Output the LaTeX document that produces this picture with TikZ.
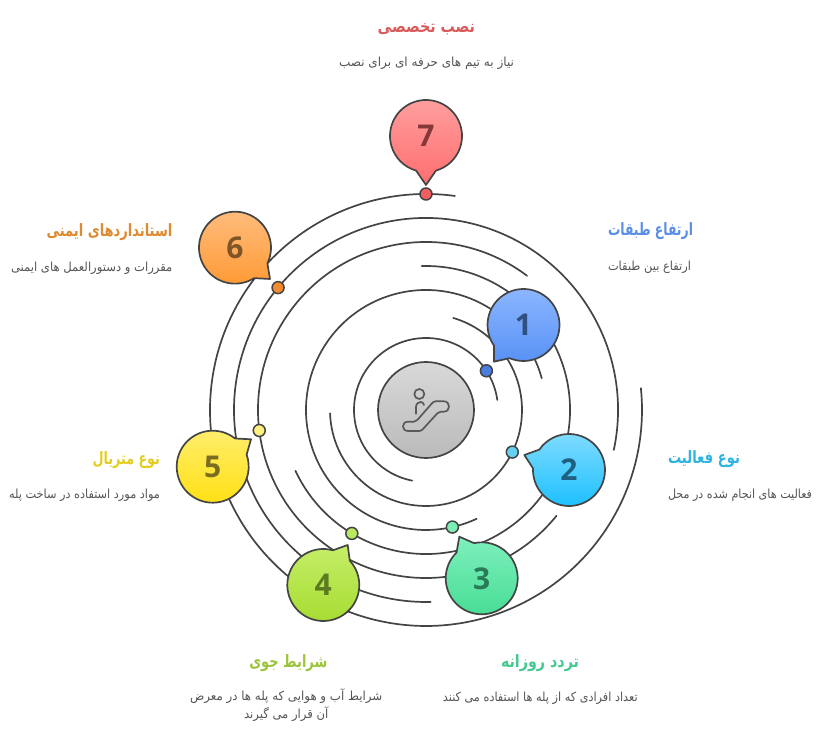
\documentclass[tikz,border=0pt]{standalone}
\usepackage{fontspec}
\usepackage{graphicx}
\usetikzlibrary{calc}
\TeXXeTstate=1
\newfontfamily\fafont[Script=Arabic]{DejaVu Sans}
\newfontfamily\numfont{Open Sans}
\newcommand{\fatxt}[2]{\resizebox{#1pt}{\height}{\fafont #2}}
\definecolor{ink}{HTML}{444444}
\definecolor{desc}{HTML}{555555}
\tikzset{
  ring/.style={draw=ink,line width=1.7pt,line cap=round},
  dot/.style={circle,draw=ink,line width=1.5pt,minimum size=12pt,inner sep=0pt},
  num/.style={font=\numfont\bfseries\fontsize{30}{32}\selectfont,inner sep=0pt},
  ttl/.style={font=\bfseries\fontsize{17}{20}\selectfont,inner sep=0pt},
  dsc/.style={font=\fontsize{12.5}{15}\selectfont,text=desc,inner sep=0pt},
}
\newcommand{\ringarc}[3]{\draw[ring] ($(o)+(#2:#1pt)$) arc[start angle=#2,end angle=#3,radius=#1pt];}
% name, cx, cy(image), tipx, tipy(image), top, bottom, number, number colour
\newcommand{\bubble}[9]{%
  \coordinate (c#1) at (#2,730-#3);
  \coordinate (tip#1) at (#4,730-#5);
  \path[draw=ink,line width=1.7pt,line join=round,top color=#6,bottom color=#7]
    let \p1=($(tip#1)-(c#1)$),\n1={atan2(\y1,\x1)} in
    ($(c#1)+(\n1+16:36pt)$) arc[start angle=\n1+16,end angle=\n1+344,radius=36pt] -- (tip#1) -- cycle;
  \node[num,text=#9] (n#1) at (c#1) {#8};
}
\begin{document}
\begin{tikzpicture}[x=1pt,y=1pt]
\useasboundingbox (0,0) rectangle (819,730);
\coordinate (o) at (426,320);
\ringarc{72}{8}{259}
\ringarc{96}{182}{433.5}
\ringarc{120}{15.3}{295}
\ringarc{144}{205}{451.7}
\ringarc{168}{53}{321}
\ringarc{192}{-12}{271.4}
\ringarc{216}{82.3}{365.8}
% dots
\node[dot,fill={rgb,255:red,74;green,125;blue,221}] (d1) at ($(o)+(33:72pt)$) {};
\node[dot,fill={rgb,255:red,102;green,208;blue,240}] (d2) at ($(o)+(-26:96pt)$) {};
\node[dot,fill={rgb,255:red,125;green,237;blue,184}] (d3) at ($(o)+(-77.3:120pt)$) {};
\node[dot,fill={rgb,255:red,184;green,232;blue,96}] (d4) at ($(o)+(239:144pt)$) {};
\node[dot,fill={rgb,255:red,255;green,240;blue,128}] (d5) at ($(o)+(187:168pt)$) {};
\node[dot,fill={rgb,255:red,245;green,138;blue,48}] (d6) at ($(o)+(140.4:192pt)$) {};
\node[dot,fill={rgb,255:red,242;green,95;blue,95}] (d7) at ($(o)+(90:216pt)$) {};
% centre
\node[circle,draw=ink,line width=1.7pt,minimum size=96pt,inner sep=0pt,top color=black!15,bottom color=black!27] (hub) at (o) {};
\begin{scope}[shift={(370,375)},x=0.3333pt,y=-0.3333pt,draw=black!65,line width=1.7pt,line join=round,line cap=round]
  \draw (148,117) circle[radius=15];
  \draw (138,176) -- (138,156) .. controls (138,146) and (146,141) .. (152,141) .. controls (157,141) and (161,144) .. (162,150);
  \draw (114,200) -- (132,200) .. controls (136,200) and (139,198) .. (142,195) -- (185,146) .. controls (188,142) and (192,139) .. (197,139)
    -- (222,139) .. controls (242,139) and (242,170) .. (222,170) -- (212,170) .. controls (208,170) and (205,172) .. (202,175)
    -- (160,221) .. controls (157,225) and (153,228) .. (148,228) -- (114,228) .. controls (94,228) and (94,200) .. (114,200) -- cycle;
\end{scope}
% bubbles
\definecolor{n1}{HTML}{2F4F80}\definecolor{n2}{HTML}{1F5F80}\definecolor{n3}{HTML}{2A7A58}
\definecolor{n4}{HTML}{5C7A20}\definecolor{n5}{HTML}{7A6D20}\definecolor{n6}{HTML}{7F5528}\definecolor{n7}{HTML}{843838}
\definecolor{a1}{HTML}{8FB8FF}\definecolor{b1}{HTML}{5590F5}
\definecolor{a2}{HTML}{7FDBFF}\definecolor{b2}{HTML}{1CC0FF}
\definecolor{a3}{HTML}{7FF0BC}\definecolor{b3}{HTML}{45DC94}
\definecolor{a4}{HTML}{C5EE68}\definecolor{b4}{HTML}{A5DC30}
\definecolor{a5}{HTML}{FFEE70}\definecolor{b5}{HTML}{FFE010}
\definecolor{a6}{HTML}{FFBE80}\definecolor{b6}{HTML}{FF9A35}
\definecolor{a7}{HTML}{FFA0A0}\definecolor{b7}{HTML}{FF6E6E}
\bubble{1}{523.5}{325}{494}{361.7}{a1}{b1}{1}{n1}
\bubble{2}{569}{470}{524.3}{455}{a2}{b2}{2}{n2}
\bubble{3}{481.7}{578.3}{459.3}{536.7}{a3}{b3}{3}{n3}
\bubble{4}{323.3}{585}{347.7}{545}{a4}{b4}{4}{n4}
\bubble{5}{212.7}{466.7}{251}{439.3}{a5}{b5}{5}{n5}
\bubble{6}{235}{247.7}{270}{279}{a6}{b6}{6}{n6}
\bubble{7}{426}{136}{426}{185}{a7}{b7}{7}{n7}
% texts
\node[ttl,text={rgb,255:red,91;green,142;blue,230}] (t1) at (650.5,730-231) {\fatxt{85}{\beginR ارتفاع طبقات\endR}};
\node[dsc] (s1) at (649.5,730-267) {\fatxt{83}{\beginR ارتفاع بین طبقات\endR}};
\node[ttl,text={rgb,255:red,47;green,179;blue,224}] (t2) at (704,730-459) {\fatxt{72}{\beginR نوع فعالیت\endR}};
\node[dsc] (s2) at (740,730-495) {\fatxt{144}{\beginR فعالیت های انجام شده در محل\endR}};
\node[ttl,text={rgb,255:red,69;green,201;blue,144}] (t3) at (540,730-663) {\fatxt{78}{\beginR تردد روزانه\endR}};
\node[dsc] (s3) at (540.3,730-698) {\fatxt{194.7}{\beginR تعداد افرادی که از پله ها استفاده می کنند\endR}};
\node[ttl,text={rgb,255:red,156;green,196;blue,60}] (t4) at (288.3,730-663) {\fatxt{78}{\beginR شرایط جوی\endR}};
\node[dsc] (s4) at (286.2,730-696) {\fatxt{192.3}{\beginR شرایط آب و هوایی که پله ها در معرض\endR}};
\node[dsc] (u4) at (286.2,730-714) {\fatxt{84.3}{\beginR آن قرار می گیرند\endR}};
\node[ttl,text={rgb,255:red,227;green,206;blue,32}] (t5) at (126.3,730-460) {\fatxt{67.4}{\beginR نوع متریال\endR}};
\node[dsc] (s5) at (84.5,730-495) {\fatxt{151}{\beginR مواد مورد استفاده در ساخت پله\endR}};
\node[ttl,text={rgb,255:red,221;green,138;blue,48}] (t6) at (109.5,730-232) {\fatxt{125.8}{\beginR استانداردهای ایمنی\endR}};
\node[dsc] (s6) at (91.7,730-268) {\fatxt{161.4}{\beginR مقررات و دستورالعمل های ایمنی\endR}};
\node[ttl,text={rgb,255:red,217;green,92;blue,92}] (t7) at (426.3,730-29) {\fatxt{97.4}{\beginR نصب تخصصی\endR}};
\node[dsc] (s7) at (426.5,730-63) {\fatxt{175}{\beginR نیاز به تیم های حرفه ای برای نصب\endR}};
\end{tikzpicture}
\end{document}
